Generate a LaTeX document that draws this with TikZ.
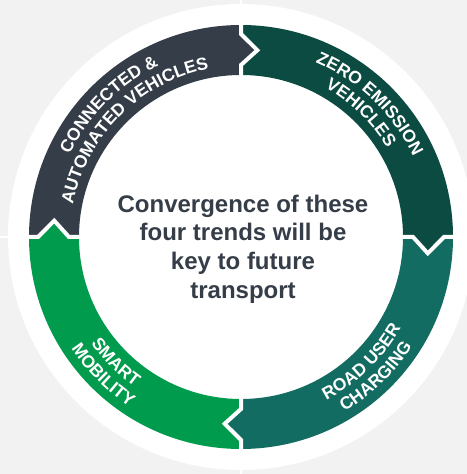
\documentclass[tikz,border=0pt]{standalone}
\usepackage{fontspec}
\setmainfont{Liberation Sans}
\usepackage{xcolor}
\definecolor{cslate}{HTML}{343D48}
\definecolor{cforest}{HTML}{0B4B41}
\definecolor{cteal}{HTML}{126C61}
\definecolor{cgreen}{HTML}{009B4C}
\definecolor{cbg}{HTML}{F2F2F2}
\usepackage{tikz}
\usetikzlibrary{decorations.text}
\newcommand{\ringfont}{\fontsize{17.5bp}{21bp}\selectfont\bfseries}
\newcommand{\ringseg}[3]{%
	\fill[#1] (#2:212) arc[start angle=#2, end angle=#3, radius=212]
		-- (#3:203) -- (#3-5:187.5) -- (#3:172) -- (#3:162)
		arc[start angle=#3, end angle=#2, radius=162]
		-- (#2:172) -- (#2-5:187.5) -- (#2:203) -- cycle;
}
\tikzset{
Gap/.style={
	draw=white,
	line width=4bp
},
ArcText/.style={
	decoration={
		text along path,
		text={|\ringfont\color{white}|#1},
		text align=center
	},
	decorate
},
CenterText/.style={
	align=center,
	text=cslate,
	font=\fontsize{24bp}{28.7bp}\selectfont\bfseries
}
}

\begin{document}
\begin{tikzpicture}[x=1bp, y=1bp]
	\useasboundingbox (0,0) rectangle (467,474);
	\fill[cbg] (0,0) rectangle (467,474);
	\coordinate (c) at (241,237);
	\draw[white, line width=2bp] (241,0) -- (241,474);
	\draw[white, line width=2bp] (0,237) -- (467,237);
	\fill[white] (c) circle[radius=233];

	\begin{scope}[shift={(c)}]
		\ringseg{cslate}{180}{90}
		\ringseg{cforest}{90}{0}
		\ringseg{cteal}{0}{-90}
		\ringseg{cgreen}{-90}{-180}
		\foreach \a in {90,0,-90,-180}
			\draw[Gap] (\a:159) -- (\a:172) -- (\a-5:187.5) -- (\a:203) -- (\a:215);

		\path[ArcText={CONNECTED {\&}}] (195:190) arc[start angle=195, end angle=75, radius=190];
		\path[ArcText={AUTOMATED VEHICLES}] (195:171) arc[start angle=195, end angle=75, radius=171];
		\path[ArcText={ZERO EMISSION}] (106:190) arc[start angle=106, end angle=-14, radius=190];
		\path[ArcText={VEHICLES}] (106:171) arc[start angle=106, end angle=-14, radius=171];
		\path[ArcText={ROAD USER}] (-106:184) arc[start angle=-106, end angle=14, radius=184];
		\path[ArcText={CHARGING}] (-106:203) arc[start angle=-106, end angle=14, radius=203];
		\path[ArcText={SMART}] (165:184) arc[start angle=165, end angle=285, radius=184];
		\path[ArcText={MOBILITY}] (165:203) arc[start angle=165, end angle=285, radius=203];
	\end{scope}

	\node[CenterText] (msg) at (243,225) {Convergence of these\\four trends will be\\key to future\\transport};
\end{tikzpicture}
\end{document}
